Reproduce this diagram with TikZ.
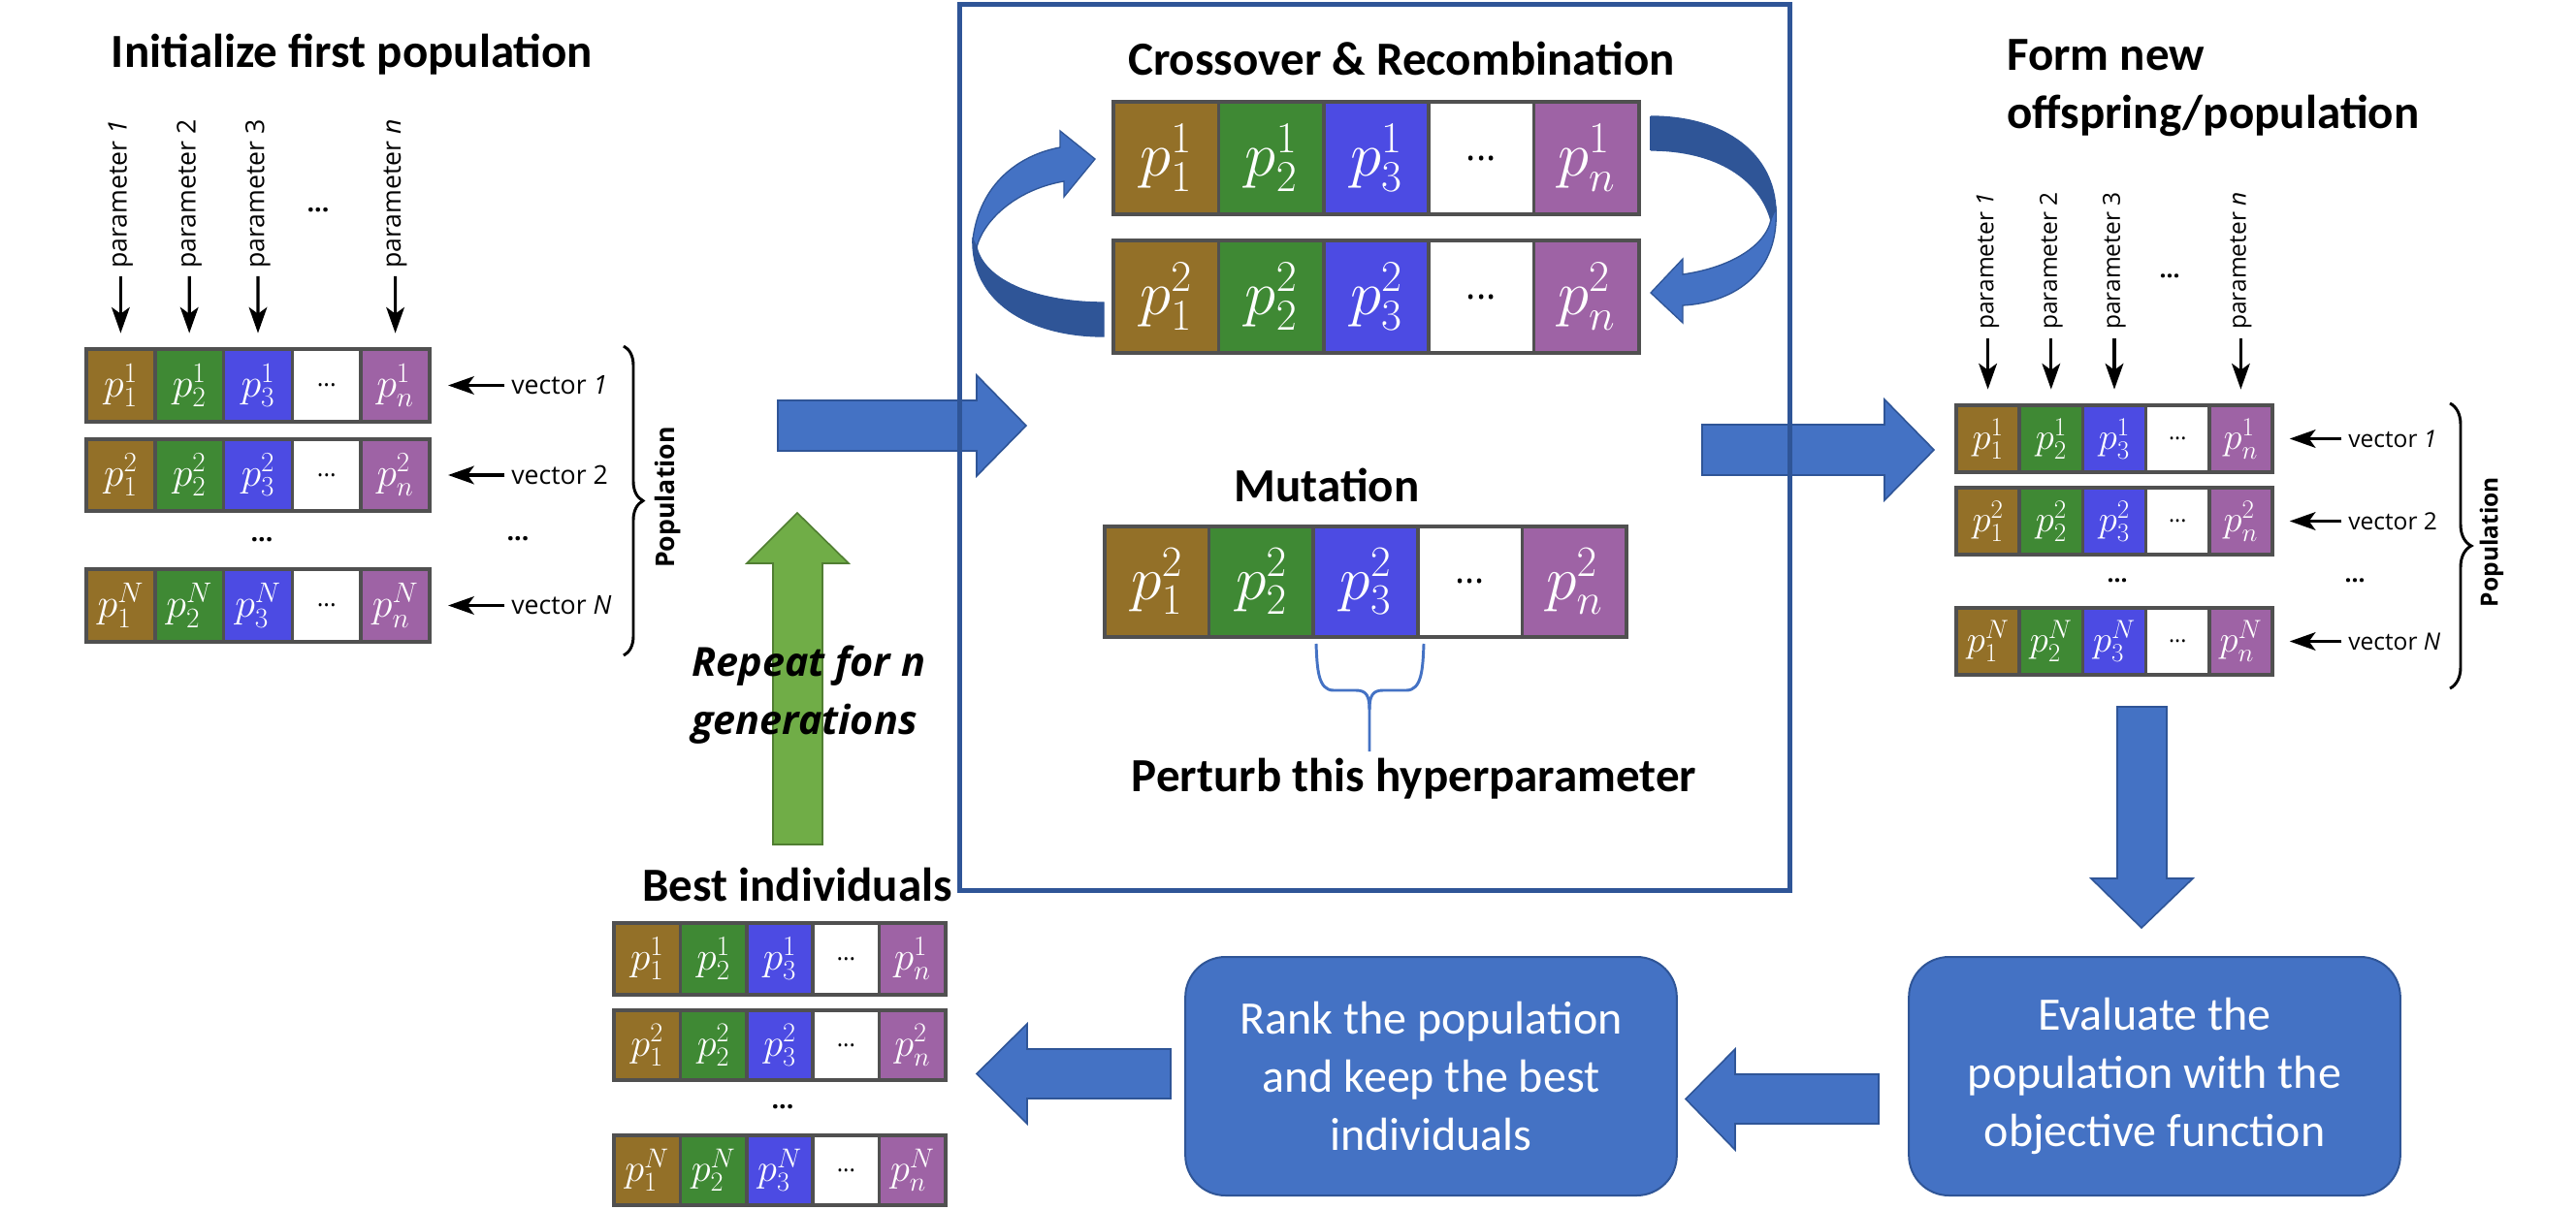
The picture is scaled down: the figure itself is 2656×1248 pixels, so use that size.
\RequirePackage{fix-cm}
\documentclass[tikz,border=0pt]{standalone}
\usepackage{fontspec}
\usepackage{graphicx}
\setmainfont{Carlito}
\newfontfamily\osans{Open Sans}
\usetikzlibrary{arrows.meta,decorations.pathreplacing,calc}

\definecolor{cbrown}{HTML}{937028}
\definecolor{cgreen}{HTML}{3F8934}
\definecolor{cblue}{HTML}{4C4BE3}
\definecolor{cpurple}{HTML}{9E63A5}
\definecolor{cborder}{HTML}{505050}
\definecolor{pblue}{HTML}{4472C4}
\definecolor{pdark}{HTML}{2F5597}
\definecolor{pgreen}{HTML}{70AD47}
\definecolor{pgreenb}{HTML}{507E32}

\tikzset{
  cell/.style={draw=cborder, line width=2.6pt, inner sep=0pt},
  blockarrow/.style={fill=pblue, draw=pdark, line width=1.2pt, line join=miter},
  titletext/.style={font=\fontsize{36.75}{45}\selectfont\bfseries, inner sep=0pt},
  lblL/.style={font=\osans\fontsize{20}{24}\selectfont, inner sep=0pt},
  lblR/.style={font=\osans\fontsize{18.4}{22}\selectfont, inner sep=0pt},
  dotsL/.style={font=\osans\bfseries\fontsize{20}{24}\selectfont, inner sep=0pt},
  dotsR/.style={font=\osans\bfseries\fontsize{18.4}{22}\selectfont, inner sep=0pt},
  arr/.style={line width=2.4pt, -{Stealth[length=20pt,width=14pt,inset=5pt]}},
  rbox/.style={fill=pblue, draw=pdark, line width=1.5pt, rounded corners=31pt,
    text=white, align=center, font=\fontsize{36}{45}\selectfont,
    minimum width=380pt, minimum height=184.5pt, inner sep=0pt},
  bracestyle/.style={line width=2.2pt, decorate},
  reptext/.style={font=\osans\bfseries\itshape\fontsize{31}{40}\selectfont, inner sep=0pt}
}

% #1 name, #2 left x, #3 top y, #4 width, #5 height, #6 superscript
\newcommand{\vrow}[6]{%
  \pgfmathsetmacro{\cw}{(#4)/5}%
  \pgfmathsetmacro{\fsz}{0.42*(#5)}%
  \pgfmathsetmacro{\dsz}{0.25*(#5)}%
  \foreach \ii/\cc/\ps in {1/cbrown/1,2/cgreen/2,3/cblue/3,5/cpurple/n}{%
    \node[cell, fill=\cc, text=white, minimum width=\cw*0.75pt, minimum height=(#5)*0.75pt]
      (#1-\ii) at ({#2+\cw*(\ii-0.5)},{#3+(#5)/2}) {\fontsize{\fsz}{\fsz}\selectfont$p_{\ps}^{#6}$};
  }%
  \node[cell, fill=white, minimum width=\cw*0.75pt, minimum height=(#5)*0.75pt]
    (#1-4) at ({#2+\cw*3.5},{#3+(#5)/2}) {\osans\fontsize{\dsz}{\dsz}\selectfont ...};
}

\begin{document}
\begin{tikzpicture}[x=0.75pt,y=-0.75pt]
\useasboundingbox (0,0) rectangle (2656,1248);
\fill[white] (0,0) rectangle (2656,1248);

% ---------------- Left: initialize population ----------------
\node[titletext] (tInit) at (363,56) {Initialize first population};
\vrow{L1}{89}{360}{354}{75}{1}
\vrow{L2}{89}{453}{354}{74}{2}
\vrow{LN}{89}{587}{354}{75}{N}
\foreach \ii/\lab in {1/{parameter \textit{1}},2/{parameter 2},3/{parameter 3},5/{parameter \textit{n}}}{
  \node[lblL, rotate=90, anchor=west] (pL\ii) at ({89+70.8*(\ii-0.5)},277) {\lab};
  \draw[arr, shorten <=6pt, shorten >=11pt] (pL\ii.west) -- (L1-\ii.north);
}
\node[dotsL] (pLdots) at (328,217) {...};
\node[lblL, anchor=west] (vL1) at (527,397.5) {vector \textit{1}};
\node[lblL, anchor=west] (vL2) at (527,490) {vector 2};
\node[lblL, anchor=west] (vLN) at (527,624.5) {vector \textit{N}};
\draw[arr, shorten <=5pt, shorten >=13pt] (vL1.west) -- (L1-5.east);
\draw[arr, shorten <=5pt, shorten >=13pt] (vL2.west) -- (L2-5.east);
\draw[arr, shorten <=5pt, shorten >=13pt] (vLN.west) -- (LN-5.east);
\node[dotsL] (Ldots1) at (270,557) {...};
\node[dotsL] (Ldots2) at (534,556) {...};
\draw[bracestyle, decoration={brace, amplitude=15pt}] (643,357) -- (643,676);
\node[font=\osans\bfseries\fontsize{20}{24}\selectfont, rotate=90, inner sep=0pt] (popL) at (689,513) {Population};

% ---------------- Blue arrow into the box ----------------
\draw[blockarrow] (802,413) -- (1007,413) -- (1007,387) -- (1058,439) -- (1007,491) -- (1007,465) -- (802,465) -- cycle;
% ---------------- Blue arrow out of the box ----------------
\draw[blockarrow] (1755,438) -- (1943,438) -- (1943,412) -- (1994,464) -- (1943,516) -- (1943,490) -- (1755,490) -- cycle;

% ---------------- Central box ----------------
\draw[pdark, line width=3.75pt] (989,5) rectangle (1845,918);
\node[titletext] (tCross) at (1445,60) {Crossover \& Recombination};
\vrow{C1}{1148}{105}{542}{116}{1}
\vrow{C2}{1148}{248}{542}{116}{2}
% left curved arrow (from row 2 back to row 1)
\fill[pdark] (1003,245) .. controls (1000,310) and (1060,347) .. (1138,347) -- (1138,312)
   .. controls (1070,312) and (1015,290) .. (1007,255) -- cycle;
\draw[pdark, line width=1pt] (1003,245) .. controls (1000,310) and (1060,347) .. (1138,347) -- (1138,312)
   .. controls (1070,312) and (1015,290) .. (1007,255);
\draw[fill=pblue, draw=pdark, line width=1pt, line join=miter] (1003,247) .. controls (1010,190) and (1050,160) .. (1093,152)
   -- (1093,135) -- (1129,164) -- (1097,203) -- (1097,187)
   .. controls (1050,195) and (1015,225) .. (1007,255) -- cycle;
% right curved arrow (from row 1 to row 2)
\fill[pdark] (1702,120) .. controls (1780,120) and (1830,160) .. (1831,218) -- (1826,228)
   .. controls (1815,185) and (1770,155) .. (1702,155) -- cycle;
\draw[fill=pblue, draw=pdark, line width=1pt, line join=miter] (1831,215) .. controls (1835,280) and (1790,312) .. (1735,315)
   -- (1735,333) -- (1702,302) -- (1735,267) -- (1735,283)
   .. controls (1790,275) and (1822,250) .. (1826,226) -- cycle;
\draw[pdark, line width=1pt] (1702,120) .. controls (1780,120) and (1830,160) .. (1831,218);
\draw[pdark, line width=1pt] (1702,155) .. controls (1770,155) and (1815,185) .. (1826,228);
\draw[pdark, line width=1pt] (1702,120) -- (1702,155);

\node[titletext] (tMut) at (1368,500) {Mutation};
\vrow{M}{1139}{543}{538}{114}{2}
\draw[pblue, line width=2.2pt] (1357,664) .. controls (1358,690) and (1359,712) .. (1375,712) -- (1398,712)
   .. controls (1409,712) and (1412,718) .. (1412,732) -- (1412,775);
\draw[pblue, line width=2.2pt] (1468,664) .. controls (1467,690) and (1466,712) .. (1450,712) -- (1426,712)
   .. controls (1415,712) and (1412,718) .. (1412,732);
\node[titletext] (tPert) at (1458,803) {Perturb this hyperparameter};

% ---------------- Right: new population ----------------
\node[titletext, align=left, anchor=west] (tForm) at (2069,91) {Form new\\offspring/population};
\vrow{R1}{2017}{418}{326}{69}{1}
\vrow{R2}{2017}{503}{326}{69}{2}
\vrow{RN}{2017}{627}{326}{69}{N}
\foreach \ii/\lab in {1/{parameter \textit{1}},2/{parameter 2},3/{parameter 3},5/{parameter \textit{n}}}{
  \node[lblR, rotate=90, anchor=west] (pR\ii) at ({2017+65.2*(\ii-0.5)},340) {\lab};
  \draw[arr, shorten <=7pt, shorten >=11pt] (pR\ii.west) -- (R1-\ii.north);
}
\node[dotsR] (pRdots) at (2237,285) {...};
\node[lblR, anchor=west] (vR1) at (2421,452.5) {vector \textit{1}};
\node[lblR, anchor=west] (vR2) at (2421,537.5) {vector 2};
\node[lblR, anchor=west] (vRN) at (2421,661.5) {vector \textit{N}};
\draw[arr, shorten <=5pt, shorten >=12pt] (vR1.west) -- (R1-5.east);
\draw[arr, shorten <=5pt, shorten >=12pt] (vR2.west) -- (R2-5.east);
\draw[arr, shorten <=5pt, shorten >=12pt] (vRN.west) -- (RN-5.east);
\node[dotsR] (Rdots1) at (2183,599) {...};
\node[dotsR] (Rdots2) at (2428,599) {...};
\draw[bracestyle, decoration={brace, amplitude=16.5pt}] (2526,416) -- (2526,710);
\node[font=\osans\bfseries\fontsize{18.4}{22}\selectfont, rotate=90, inner sep=0pt] (popR) at (2569,559) {Population};

% ---------------- Down arrow, boxes, left arrows ----------------
\draw[blockarrow] (2183,729) -- (2234,729) -- (2234,906) -- (2261,906) -- (2208,957) -- (2156,906) -- (2183,906) -- cycle;
\node[rbox] (eval) at (2221.5,1110) {Evaluate the\\population with the\\objective function};
\node[rbox] (rank) at (1475.5,1110) {Rank the population\\and keep the best\\individuals};
\draw[blockarrow] (1937,1108) -- (1789,1108) -- (1789,1082) -- (1738,1133.5) -- (1789,1186) -- (1789,1159) -- (1937,1159) -- cycle;
\draw[blockarrow] (1207,1082) -- (1059,1082) -- (1059,1056) -- (1007,1107.5) -- (1059,1159) -- (1059,1133) -- (1207,1133) -- cycle;

% ---------------- Best individuals ----------------
\node[titletext] (tBest) at (822,912) {Best individuals};
\vrow{B1}{633}{952}{342}{74}{1}
\vrow{B2}{633}{1042}{342}{72}{2}
\vrow{BN}{633}{1171}{342}{72}{N}
\node[dotsL] (Bdots) at (807,1142) {...};

% ---------------- Green repeat arrow ----------------
\draw[fill=pgreen, draw=pgreenb, line width=1.2pt, line join=miter] (797,871) -- (797,581) -- (770,581) -- (822,529) -- (875,581) -- (848,581) -- (848,871) -- cycle;
\node[reptext, anchor=base west] (rep1) at (713,697) {Repeat for n};
\node[reptext, anchor=base west] (rep2) at (713,757) {generations};
\end{tikzpicture}
\end{document}
